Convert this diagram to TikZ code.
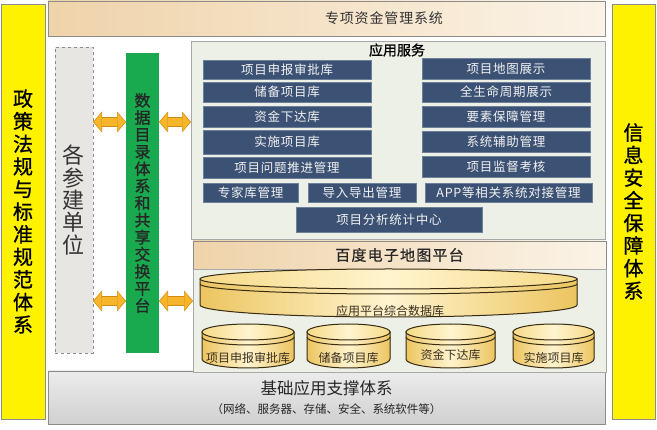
\documentclass[tikz,border=0pt]{standalone}
\usepackage{fontspec}
\usepackage{tikz}
\usetikzlibrary{arrows.meta}
\setmainfont{Noto Sans CJK SC}
\newfontfamily\cjkbold{Noto Sans CJK SC}[FakeBold=1]
\newfontfamily\cjkspaced{Noto Sans CJK SC}[LetterSpace=6]
\newfontfamily\cjkmap{Noto Sans CJK SC}[LetterSpace=8,FakeBold=0.6]

\definecolor{sidegray}{HTML}{8C8C8C}
\definecolor{tanleft}{HTML}{EFD3AA}
\definecolor{tanright}{HTML}{FBF3E7}
\definecolor{titlegray}{HTML}{333333}
\definecolor{panelline}{HTML}{A8A8A8}
\definecolor{panelfill}{HTML}{EDF0E6}
\definecolor{boxfill}{HTML}{3C5275}
\definecolor{boxline}{HTML}{6D7F99}
\definecolor{boxtext}{HTML}{F2F2F2}
\definecolor{unitfill}{HTML}{E8E6E3}
\definecolor{sharefill}{HTML}{19AA50}
\definecolor{basetop}{HTML}{ECECEC}
\definecolor{basebottom}{HTML}{D0D0D0}
\definecolor{diskline}{HTML}{3A2C12}
\definecolor{diskdark}{HTML}{ECC560}
\definecolor{disklight}{HTML}{FFF4CF}
\definecolor{disktopfill}{HTML}{F6DA88}
\definecolor{disktext}{HTML}{3A3020}
\definecolor{arrowfill}{HTML}{F7B52C}
\definecolor{arrowline}{HTML}{D08A0E}

\begin{document}
\begin{tikzpicture}[
    x=1pt, y=-1pt,
    every node/.style={inner sep=0pt, outer sep=0pt},
    sidebar/.style={rectangle, draw=sidegray, fill=yellow, align=center,
      font=\cjkbold\fontsize{20}{22.6}\selectfont},
    layerbar/.style={rectangle, draw=sidegray, left color=tanleft, right color=tanright},
    panel/.style={rectangle, draw=panelline, fill=panelfill},
    funcbox/.style={rectangle, draw=boxline, fill=boxfill, text=boxtext,
      minimum width=168pt, minimum height=21pt, font=\cjkspaced\fontsize{12.5}{14}\selectfont},
    diskbody/.style={draw=diskline, line width=1pt, left color=diskdark, right color=diskdark, middle color=disklight},
    disktop/.style={draw=diskline, line width=1pt, left color=disktopfill, right color=disktopfill, middle color=disklight},
    diskring/.style={draw=diskline, line width=1pt},
    disklabel/.style={text=disktext, font=\fontsize{12}{14}\selectfont},
    linkarrow/.style={
      preaction={draw=arrowline, line width=10.5pt, shorten >=0pt, shorten <=0pt,
        arrows={Triangle[length=9pt,width=21pt,line width=0pt]-Triangle[length=9pt,width=21pt,line width=0pt]}},
      draw=arrowfill, line width=8.5pt, shorten >=1pt, shorten <=1pt,
      arrows={Triangle[length=7.6pt,width=18.4pt,line width=0pt]-Triangle[length=7.6pt,width=18.4pt,line width=0pt]}}
  ]
  \useasboundingbox (0,0) rectangle (657,430);
  % side columns
  \node[sidebar, minimum width=44pt, minimum height=415pt] (policy) at (23,211.5)
    {政\\策\\法\\规\\与\\标\\准\\规\\范\\体\\系};
  \node[sidebar, minimum width=43pt, minimum height=415pt] (security) at (633.5,211.5)
    {信\\息\\安\\全\\保\\障\\体\\系};
  % top layer
  \node[layerbar, minimum width=557pt, minimum height=35pt] (system) at (326.5,18.5) {};
  \node[text=titlegray, font=\cjkspaced\fontsize{14}{16}\selectfont] (system_title) at (384,18) {专项资金管理系统};
  % left columns
  \node[rectangle, draw=sidegray, dashed, fill=unitfill, minimum width=38pt, minimum height=306pt,
    align=center, text=titlegray, font=\fontsize{22}{22.3}\selectfont] (unit) at (74,200)
    {各\\参\\建\\单\\位};
  \node[rectangle, fill=sharefill, minimum width=33pt, minimum height=300pt,
    align=center, text=black!85, font=\cjkbold\fontsize{16}{17.1}\selectfont] (share) at (142.5,203)
    {数\\据\\目\\录\\体\\系\\和\\共\\享\\交\\换\\平\\台};
  % base layer
  \node[rectangle, draw=sidegray, top color=basetop, bottom color=basebottom, minimum width=557pt,
    minimum height=53pt, align=center, text=black!85, font=\fontsize{16.5}{19}\selectfont] (base) at (326.5,397.5)
    {基础应用支撑体系\\{\fontsize{11.5}{14}\selectfont （网络、服务器、存储、安全、系统软件等）}};
  % application services
  \node[panel, minimum width=414pt, minimum height=198pt] (service) at (398,140) {};
  \node[font=\cjkbold\fontsize{14}{16}\selectfont] (service_title) at (397,50) {应用服务};
  \node[funcbox, minimum height=19pt] (lib_apply) at (287,69.5) {项目申报审批库};
  \node[funcbox, minimum height=20pt] (lib_reserve) at (287,92) {储备项目库};
  \node[funcbox] (lib_fund) at (287,116.5) {资金下达库};
  \node[funcbox, minimum height=24pt] (lib_impl) at (287,142) {实施项目库};
  \node[funcbox] (issue_mgmt) at (287,167.5) {项目问题推进管理};
  \node[funcbox] (map_show) at (506,68.5) {项目地图展示};
  \node[funcbox, minimum height=20pt] (life_show) at (506,92) {全生命周期展示};
  \node[funcbox] (factor_mgmt) at (506,116.5) {要素保障管理};
  \node[funcbox] (aux_mgmt) at (506,141.5) {系统辅助管理};
  \node[funcbox] (supervise) at (506,166.5) {项目监督考核};
  \node[funcbox, minimum width=95pt, minimum height=19pt] (expert_mgmt) at (250.5,192.5) {专家库管理};
  \node[funcbox, minimum width=108pt, minimum height=19pt] (io_mgmt) at (362,192.5) {导入导出管理};
  \node[funcbox, minimum width=167pt, minimum height=19pt] (app_mgmt) at (508.5,192.5) {APP等相关系统对接管理};
  \node[funcbox, minimum width=186pt, minimum height=25pt] (stats_center) at (389,219.5) {项目分析统计中心};
  % map platform and databases
  \node[layerbar, minimum width=413pt, minimum height=28pt, text=black!85,
    font=\cjkmap\fontsize{15}{17}\selectfont] (map_platform) at (399.5,255) {百度电子地图平台};
  \node[panel, minimum width=413pt, minimum height=103pt] (database) at (399.5,320.5) {};
  \filldraw[diskbody] (200,279) -- (200,305) arc[start angle=180, end angle=0, x radius=188.5, y radius=12] -- (577,279) -- cycle;
  \filldraw[disktop] (388.5,279) ellipse [x radius=188.5, y radius=10];
  \draw[diskring] (200,284) arc[start angle=180, end angle=0, x radius=188.5, y radius=10];
  \node[disklabel] (db_main) at (390,311) {应用平台综合数据库};
  \filldraw[diskbody] (202,332) -- (202,359) arc[start angle=180, end angle=0, x radius=46, y radius=9] -- (294,332) -- cycle;
  \filldraw[disktop] (248,332) ellipse [x radius=46, y radius=8];
  \draw[diskring] (202,337) arc[start angle=180, end angle=0, x radius=46, y radius=8];
  \node[disklabel] (db_apply) at (248,358) {项目申报审批库};
  \filldraw[diskbody] (307,332) -- (307,359) arc[start angle=180, end angle=0, x radius=41.5, y radius=9] -- (390,332) -- cycle;
  \filldraw[disktop] (348.5,332) ellipse [x radius=41.5, y radius=8];
  \draw[diskring] (307,337) arc[start angle=180, end angle=0, x radius=41.5, y radius=8];
  \node[disklabel] (db_reserve) at (348.5,358) {储备项目库};
  \filldraw[diskbody] (406,332) -- (406,359) arc[start angle=180, end angle=0, x radius=44.5, y radius=9] -- (495,332) -- cycle;
  \filldraw[disktop] (450.5,332) ellipse [x radius=44.5, y radius=8];
  \draw[diskring] (406,337) arc[start angle=180, end angle=0, x radius=44.5, y radius=8];
  \node[disklabel] (db_fund) at (450.5,355) {资金下达库};
  \filldraw[diskbody] (513,332) -- (513,359) arc[start angle=180, end angle=0, x radius=40.5, y radius=9] -- (594,332) -- cycle;
  \filldraw[disktop] (553.5,332) ellipse [x radius=40.5, y radius=8];
  \draw[diskring] (513,337) arc[start angle=180, end angle=0, x radius=40.5, y radius=8];
  \node[disklabel] (db_impl) at (553.5,358) {实施项目库};
  % exchange arrows
  \draw[linkarrow] (unit.east |- 0,122) -- (share.west |- 0,122);
  \draw[linkarrow] (share.east |- 0,122) -- (service.west |- 0,122);
  \draw[linkarrow] (unit.east |- 0,301) -- (share.west |- 0,301);
  \draw[linkarrow] (share.east |- 0,301) -- (database.west |- 0,301);
\end{tikzpicture}
\end{document}
